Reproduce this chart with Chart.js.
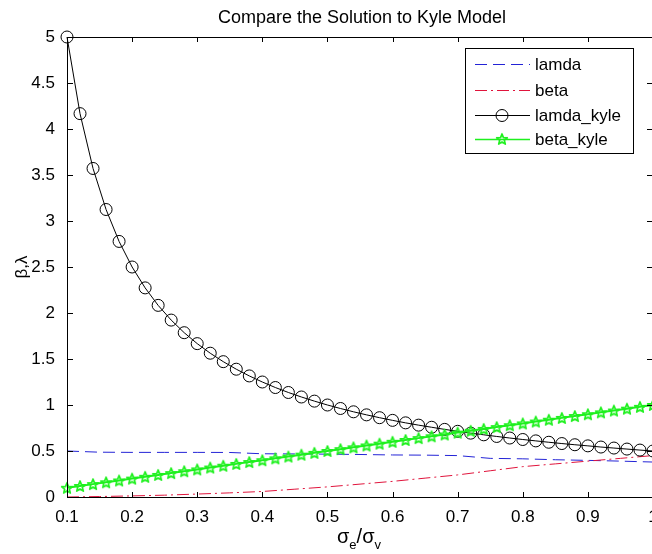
<!DOCTYPE html>
<html lang="en">
<head>
  <meta charset="UTF-8">
  <title>Compare the Solution to Kyle Model</title>
  <script src="https://cdn.jsdelivr.net/npm/chart.js"></script>
  <style>
    body { margin: 0; background: #fff; }
    #wrap { width: 652px; height: 554px; overflow: hidden; position: relative; }
    #kyleChart { position: absolute; left: 0; top: 0; }
  </style>
</head>
<body>
  <div id="wrap"><canvas id="kyleChart" width="700" height="554"></canvas></div>

  <script>
    // axis ticks
    const xTicks = [0.1, 0.2, 0.3, 0.4, 0.5, 0.6, 0.7, 0.8, 0.9, 1.0];
    const xTickLabels = ['0.1', '0.2', '0.3', '0.4', '0.5', '0.6', '0.7', '0.8', '0.9', '1'];
    const yTicks = [0, 0.5, 1, 1.5, 2, 2.5, 3, 3.5, 4, 4.5, 5];
    const yTickLabels = ['0', '0.5', '1', '1.5', '2', '2.5', '3', '3.5', '4', '4.5', '5'];

    // numerical solution
    const solX  = [0.10, 0.15, 0.20, 0.25, 0.30, 0.35, 0.40, 0.45, 0.50, 0.55,
                   0.60, 0.65, 0.70, 0.75, 0.80, 0.85, 0.90, 0.95, 1.00];
    const lamda = [0.500, 0.487, 0.485, 0.485, 0.485, 0.484, 0.470, 0.468, 0.466, 0.462,
                   0.457, 0.455, 0.450, 0.420, 0.415, 0.405, 0.398, 0.390, 0.380];
    const beta  = [0.000, 0.005, 0.012, 0.020, 0.032, 0.045, 0.060, 0.085, 0.110, 0.140,
                   0.170, 0.205, 0.240, 0.285, 0.330, 0.360, 0.390, 0.420, 0.450];

    // Kyle model
    const kyleX = [0.10, 0.12, 0.14, 0.16, 0.18, 0.20, 0.22, 0.24, 0.26, 0.28,
                   0.30, 0.32, 0.34, 0.36, 0.38, 0.40, 0.42, 0.44, 0.46, 0.48,
                   0.50, 0.52, 0.54, 0.56, 0.58, 0.60, 0.62, 0.64, 0.66, 0.68,
                   0.70, 0.72, 0.74, 0.76, 0.78, 0.80, 0.82, 0.84, 0.86, 0.88,
                   0.90, 0.92, 0.94, 0.96, 0.98, 1.00];
    const lamdaKyle = [5.000, 4.167, 3.571, 3.125, 2.778, 2.500, 2.273, 2.083, 1.923, 1.786,
                       1.667, 1.563, 1.471, 1.389, 1.316, 1.250, 1.190, 1.136, 1.087, 1.042,
                       1.000, 0.962, 0.926, 0.893, 0.862, 0.833, 0.806, 0.781, 0.758, 0.735,
                       0.714, 0.694, 0.676, 0.658, 0.641, 0.625, 0.610, 0.595, 0.581, 0.568,
                       0.556, 0.543, 0.532, 0.521, 0.510, 0.500];
    const betaKyle = [0.10, 0.12, 0.14, 0.16, 0.18, 0.20, 0.22, 0.24, 0.26, 0.28,
                      0.30, 0.32, 0.34, 0.36, 0.38, 0.40, 0.42, 0.44, 0.46, 0.48,
                      0.50, 0.52, 0.54, 0.56, 0.58, 0.60, 0.62, 0.64, 0.66, 0.68,
                      0.70, 0.72, 0.74, 0.76, 0.78, 0.80, 0.82, 0.84, 0.86, 0.88,
                      0.90, 0.92, 0.94, 0.96, 0.98, 1.00];

    const FONT = '"Liberation Sans", Arial, sans-serif';
    const BLUE = '#2323d6';
    const RED = '#e0143c';
    const GREEN = '#1ef01e';

    const pts = (xs, ys) => xs.map((x, i) => ({ x: x, y: ys[i] }));

    // matlab-style pentagram marker
    function makeStar(color) {
      const c = document.createElement('canvas');
      c.width = 14; c.height = 14;
      const g = c.getContext('2d');
      g.strokeStyle = color;
      g.lineWidth = 1.7;
      g.lineJoin = 'round';
      g.beginPath();
      for (let i = 0; i < 10; i++) {
        const r = i % 2 === 0 ? 5.6 : 2.4;
        const a = -Math.PI / 2 + i * Math.PI / 5;
        const px = 7 + r * Math.cos(a), py = 7.6 + r * Math.sin(a);
        if (i === 0) g.moveTo(px, py); else g.lineTo(px, py);
      }
      g.closePath();
      g.stroke();
      return c;
    }
    const starImg = makeStar(GREEN);

    const legendItems = [
      { text: 'lamda', color: BLUE, dash: [12, 6], marker: null },
      { text: 'beta', color: RED, dash: [12, 4, 2, 4], marker: null },
      { text: 'lamda_kyle', color: '#000', dash: [], marker: 'circle' },
      { text: 'beta_kyle', color: GREEN, dash: [], marker: 'star' }
    ];

    const framePlugin = {
      id: 'frame',
      afterDraw(chart) {
        const ctx = chart.ctx;
        const a = chart.chartArea;
        const xs = chart.scales.x, ys = chart.scales.y;
        ctx.save();
        ctx.strokeStyle = '#000';
        ctx.lineWidth = 1;
        ctx.setLineDash([]);
        ctx.strokeRect(Math.round(a.left) + 0.5, Math.round(a.top) + 0.5,
                       Math.round(a.right - a.left), Math.round(a.bottom - a.top));
        // inward ticks
        ctx.beginPath();
        xTicks.forEach(v => {
          const px = Math.round(xs.getPixelForValue(v)) + 0.5;
          ctx.moveTo(px, a.bottom); ctx.lineTo(px, a.bottom - 5);
          ctx.moveTo(px, a.top); ctx.lineTo(px, a.top + 5);
        });
        yTicks.forEach(v => {
          const py = Math.round(ys.getPixelForValue(v)) + 0.5;
          ctx.moveTo(a.left, py); ctx.lineTo(a.left + 6, py);
          ctx.moveTo(a.right, py); ctx.lineTo(a.right - 6, py);
        });
        ctx.stroke();

        // title
        ctx.fillStyle = '#000';
        ctx.font = '18px ' + FONT;
        ctx.textAlign = 'center';
        ctx.textBaseline = 'alphabetic';
        ctx.fillText('Compare the Solution to Kyle Model', 362, 23);

        // y label
        ctx.save();
        ctx.font = '17px ' + FONT;
        ctx.translate(22, 267);
        ctx.rotate(-Math.PI / 2);
        ctx.textBaseline = 'middle';
        ctx.fillText('\u03b2,\u03bb', 0, 0);
        ctx.restore();

        // x label  sigma_e / sigma_v
        const big = '20px ' + FONT, small = '13px ' + FONT;
        const parts = [['\u03c3', big, 0], ['e', small, 6], ['/\u03c3', big, 0], ['v', small, 6]];
        let w = 0;
        parts.forEach(p => { ctx.font = p[1]; w += ctx.measureText(p[0]).width; });
        let cx = 359 - w / 2;
        ctx.textAlign = 'left';
        parts.forEach(p => {
          ctx.font = p[1];
          ctx.fillText(p[0], cx, 543 + p[2]);
          cx += ctx.measureText(p[0]).width;
        });

        // legend box
        const bx = 465, by = 48, bw = 168, bh = 105;
        ctx.fillStyle = '#fff';
        ctx.fillRect(bx, by, bw, bh);
        ctx.strokeRect(bx + 0.5, by + 0.5, bw, bh);
        const rowY = [64, 90, 115, 139];
        legendItems.forEach((it, i) => {
          const y = rowY[i] + 0.5;
          ctx.strokeStyle = it.color;
          ctx.lineWidth = it.marker === 'star' ? 1.5 : 1;
          ctx.setLineDash(it.dash);
          ctx.beginPath();
          ctx.moveTo(475, y); ctx.lineTo(530, y);
          ctx.stroke();
          ctx.setLineDash([]);
          ctx.lineWidth = 1;
          if (it.marker === 'circle') {
            ctx.beginPath();
            ctx.arc(502, y, 6, 0, Math.PI * 2);
            ctx.stroke();
          } else if (it.marker === 'star') {
            ctx.drawImage(starImg, 495, y - 7.6);
          }
          ctx.fillStyle = '#000';
          ctx.font = '17px ' + FONT;
          ctx.textAlign = 'left';
          ctx.textBaseline = 'middle';
          ctx.fillText(it.text, 535, y + 1);
        });
        ctx.restore();
      }
    };

    new Chart(document.getElementById('kyleChart'), {
      type: 'scatter',
      data: {
        datasets: [
          {
            label: 'lamda', data: pts(solX, lamda), showLine: true,
            borderColor: BLUE, borderWidth: 1, borderDash: [12, 6],
            pointRadius: 0, order: 3
          },
          {
            label: 'beta', data: pts(solX, beta), showLine: true,
            borderColor: RED, borderWidth: 1, borderDash: [12, 4, 2, 4],
            pointRadius: 0, order: 2
          },
          {
            label: 'lamda_kyle', data: pts(kyleX, lamdaKyle), showLine: true,
            borderColor: '#000', borderWidth: 1, backgroundColor: 'rgba(0,0,0,0)',
            pointStyle: 'circle', pointRadius: 6, pointBorderWidth: 1,
            pointBorderColor: '#000', clip: false, order: 1
          },
          {
            label: 'beta_kyle', data: pts(kyleX, betaKyle), showLine: true,
            borderColor: GREEN, borderWidth: 2,
            pointStyle: starImg, pointRadius: 6, clip: false, order: 0
          }
        ]
      },
      options: {
        responsive: false,
        animation: false,
        events: [],
        layout: { padding: { left: 0, top: 37, right: 47, bottom: 0 } },
        plugins: {
          legend: { display: false },
          title: { display: false },
          tooltip: { enabled: false }
        },
        scales: {
          x: {
            type: 'linear', min: 0.1, max: 1,
            grid: { display: false }, border: { display: false },
            afterBuildTicks: s => { s.ticks = xTicks.map(v => ({ value: v })); },
            afterFit: s => { s.height = 57; },
            ticks: {
              color: '#000', padding: 2, maxRotation: 0, autoSkip: false,
              font: { family: FONT, size: 17 },
              callback: (v, i) => xTickLabels[i]
            }
          },
          y: {
            type: 'linear', min: 0, max: 5,
            grid: { display: false }, border: { display: false },
            afterBuildTicks: s => { s.ticks = yTicks.map(v => ({ value: v })); },
            afterFit: s => { s.width = 67; },
            ticks: {
              color: '#000', padding: 4, autoSkip: false,
              font: { family: FONT, size: 17 },
              callback: (v, i) => yTickLabels[i]
            }
          }
        }
      },
      plugins: [framePlugin]
    });
  </script>
</body>
</html>
